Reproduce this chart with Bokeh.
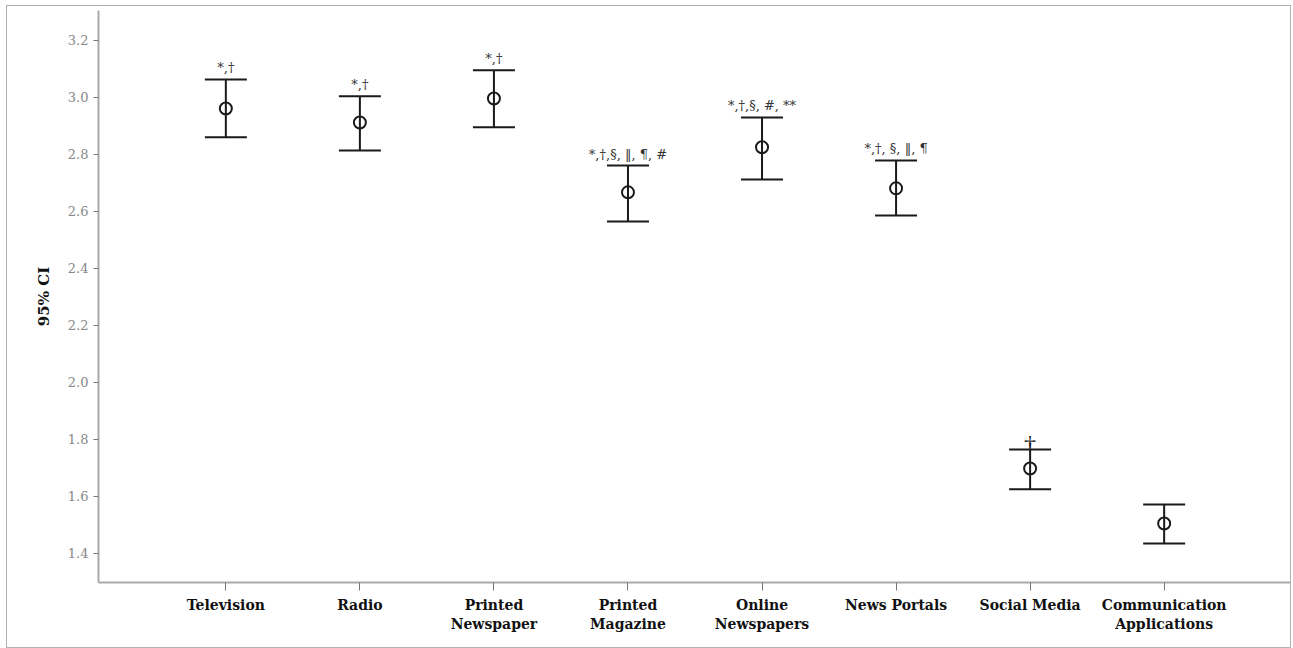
from bokeh.plotting import figure
from bokeh.models import (FactorRange, Range1d, ColumnDataSource, Whisker, TeeHead,
                          FixedTicker, PrintfTickFormatter)
from bokeh.core.properties import value
from bokeh.embed import file_html
from bokeh.resources import INLINE

categories = ["Television", "Radio", "Printed\nNewspaper", "Printed\nMagazine",
              "Online\nNewspapers", "News Portals", "Social Media", "Communication\nApplications"]
means = [2.961, 2.912, 2.996, 2.667, 2.825, 2.681, 1.698, 1.505]
upper_ci = [3.063, 3.004, 3.095, 2.761, 2.930, 2.779, 1.765, 1.572]
lower_ci = [2.860, 2.814, 2.895, 2.565, 2.712, 2.586, 1.625, 1.435]
annotations = ["*,\u2020", "*,\u2020", "*,\u2020", "*,\u2020,\u00a7, \u2016, \u00b6, #",
               "*,\u2020,\u00a7, #, **", "*,\u2020, \u00a7, \u2016, \u00b6", "", ""]
y_ticks = [1.4, 1.6, 1.8, 2.0, 2.2, 2.4, 2.6, 2.8, 3.0, 3.2]

src = ColumnDataSource(dict(cat=categories, mean=means, up=upper_ci, lo=lower_ci, ann=annotations))

serif = "DejaVu Serif"
p = figure(x_range=FactorRange(factors=categories, range_padding=0.1125),
           y_range=Range1d(1.298, 3.305),
           width=1285, height=643, output_backend="svg", toolbar_location=None,
           min_border_left=91, min_border_right=1, min_border_top=4, min_border_bottom=67)
p.styles = {"border": "1px solid #b0b0b0", "margin": "5px 0px 0px 6px"}
p.outline_line_color = None
p.xgrid.visible = False
p.ygrid.visible = False
p.background_fill_color = "white"
p.border_fill_color = "white"

w = Whisker(source=src, base="cat", upper="up", lower="lo", line_width=2, line_color="#1a1a1a",
            upper_head=TeeHead(size=42, line_width=2, line_color="#1a1a1a"),
            lower_head=TeeHead(size=42, line_width=2, line_color="#1a1a1a"))
p.add_layout(w)

p.scatter(x="cat", y="mean", source=src, marker="circle", size=12, fill_color=None,
          line_color="#1a1a1a", line_width=2)

p.text(x="cat", y="up", text="ann", source=src, text_align="center", text_baseline="bottom",
       y_offset=-4, text_font=value(serif), text_font_size="13px", text_color="#333333")

# dagger on Social Media
p.text(x=[categories[6]], y=[upper_ci[6]], text=["\u2020"], text_align="center",
       text_baseline="middle", y_offset=-5, text_font=value("Liberation Serif"),
       text_font_size="24px", text_color="#222222")

ya = p.yaxis[0]
ya.ticker = FixedTicker(ticks=y_ticks)
ya.formatter = PrintfTickFormatter(format="%.1f")
ya.axis_label = "95% CI"
ya.axis_label_text_font = serif
ya.axis_label_text_font_style = "bold"
ya.axis_label_text_font_size = "15px"
ya.axis_label_text_color = "#111111"
ya.axis_label_standoff = 12
ya.major_label_text_font = serif
ya.major_label_text_font_size = "13px"
ya.major_label_text_color = "#888888"
ya.axis_line_color = "#aaaaaa"
ya.axis_line_width = 2
ya.major_tick_line_color = "#777777"
ya.major_tick_out = 5
ya.major_tick_in = 0
ya.minor_tick_line_color = None

xa = p.xaxis[0]
xa.major_label_text_font = serif
xa.major_label_text_font_style = "bold"
xa.major_label_text_font_size = "14px"
xa.major_label_text_color = "#111111"
xa.axis_line_color = "#aaaaaa"
xa.axis_line_width = 2
xa.major_tick_line_color = "#777777"
xa.major_tick_out = 8
xa.major_tick_in = 0
xa.major_label_standoff = 6

open("out.html", "w").write(file_html(p, INLINE))
